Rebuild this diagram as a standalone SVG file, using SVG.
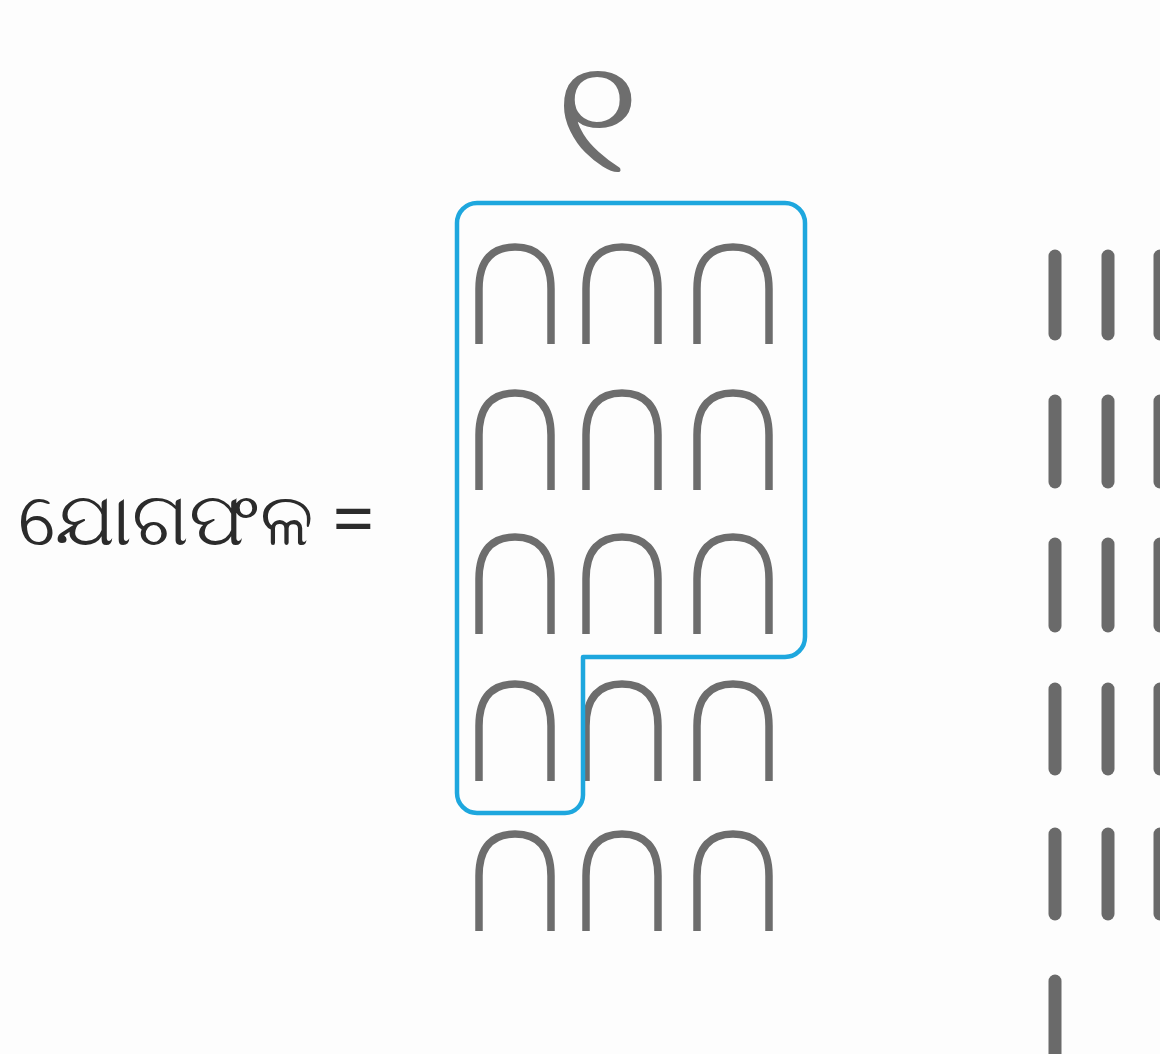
<svg xmlns="http://www.w3.org/2000/svg" xmlns:xlink="http://www.w3.org/1999/xlink" width="1160" height="1054" viewBox="0 0 1160 1054">
<style>
.lbl{font-family:"Noto Sans","DejaVu Sans",sans-serif;fill:#2b2b2b}
.dig{font-family:"Noto Sans","DejaVu Sans",sans-serif;fill:#6e6e6e}
.arch{fill:none;stroke:#6d6d6d;stroke-width:7.5;stroke-linecap:butt}
.one{stroke:#6a6a6a;stroke-width:13;stroke-linecap:round}
.outline{fill:none;stroke:#1ea7de;stroke-width:4.5;stroke-linejoin:round}
</style>
<defs>
<path id="arch" class="arch" d="M0 97 V42 C0 12 14 0 36 0 C58 0 72 12 72 42 V97"/>
</defs>
<rect width="1160" height="1054" fill="#fdfdfd"/>
<g id="label"><text class="lbl" x="18" y="545" font-size="74">ଯୋଗଫଳ =</text></g>
<g id="digit"><text class="dig" x="597" y="172" font-size="160" text-anchor="middle">୧</text></g>
<g id="tens">
<use xlink:href="#arch" x="479" y="247"/><use xlink:href="#arch" x="586" y="247"/><use xlink:href="#arch" x="697" y="247"/>
<use xlink:href="#arch" x="479" y="393"/><use xlink:href="#arch" x="586" y="393"/><use xlink:href="#arch" x="697" y="393"/>
<use xlink:href="#arch" x="479" y="537"/><use xlink:href="#arch" x="586" y="537"/><use xlink:href="#arch" x="697" y="537"/>
<use xlink:href="#arch" x="479" y="684"/><use xlink:href="#arch" x="586" y="684"/><use xlink:href="#arch" x="697" y="684"/>
<use xlink:href="#arch" x="479" y="834"/><use xlink:href="#arch" x="586" y="834"/><use xlink:href="#arch" x="697" y="834"/>
</g>
<g id="ones">
<line class="one" x1="1055" y1="256" x2="1055" y2="334"/><line class="one" x1="1108" y1="256" x2="1108" y2="334"/><line class="one" x1="1160" y1="256" x2="1160" y2="334"/>
<line class="one" x1="1055" y1="401" x2="1055" y2="482"/><line class="one" x1="1108" y1="401" x2="1108" y2="482"/><line class="one" x1="1160" y1="401" x2="1160" y2="482"/>
<line class="one" x1="1055" y1="544" x2="1055" y2="626"/><line class="one" x1="1108" y1="544" x2="1108" y2="626"/><line class="one" x1="1160" y1="544" x2="1160" y2="626"/>
<line class="one" x1="1055" y1="689" x2="1055" y2="769"/><line class="one" x1="1108" y1="689" x2="1108" y2="769"/><line class="one" x1="1160" y1="689" x2="1160" y2="769"/>
<line class="one" x1="1055" y1="834" x2="1055" y2="914"/><line class="one" x1="1108" y1="834" x2="1108" y2="914"/><line class="one" x1="1160" y1="834" x2="1160" y2="914"/>
<line class="one" x1="1055" y1="981" x2="1055" y2="1060"/>
</g>
<g id="outline"><path class="outline" d="M477 203 H785 A20 20 0 0 1 805 223 V637 A20 20 0 0 1 785 657 H583 V795 A18 18 0 0 1 565 813 H477 A20 20 0 0 1 457 793 V223 A20 20 0 0 1 477 203 Z"/></g>
</svg>
